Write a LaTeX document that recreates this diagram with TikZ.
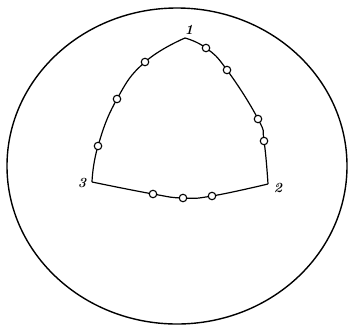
\documentclass[tikz,border=0pt]{standalone}
\begin{document}
\begin{tikzpicture}[x=1pt,y=-1pt,
  outline/.style={line width=1.4pt},
  edge/.style={line width=1.2pt},
  pin/.style={circle,draw,fill=white,line width=1.1pt,inner sep=0pt,minimum size=7.5pt},
  lbl/.style={font=\itshape\bfseries\fontsize{14}{14}\selectfont,inner sep=0pt}]
\useasboundingbox (0,0) rectangle (348,325);
\draw[outline] (177,166) ellipse [x radius=170, y radius=158];
\coordinate (v1) at (185,38);
\coordinate (v2) at (268,184);
\coordinate (v3) at (92,182);
\draw[edge] plot[smooth,tension=0.8] coordinates {(v1) (145,62) (117,99) (98,146) (v3)};
\draw[edge] plot[smooth,tension=0.8] coordinates {(v1) (206,48) (227,70) (258,119) (264,141) (v2)};
\draw[edge] plot[smooth,tension=0.8] coordinates {(v3) (153,194) (183,198) (212,196) (v2)};
\foreach \p/\n in {{(145,62)}/a1,{(117,99)}/a2,{(98,146)}/a3,{(206,48)}/b1,{(227,70)}/b2,{(258,119)}/b3,{(264,141)}/b4,{(153,194)}/c1,{(183,198)}/c2,{(212,196)}/c3}
  \node[pin] (\n) at \p {};
\node[lbl] (l1) at (189,30) {1};
\node[lbl] (l3) at (82,183) {3};
\node[lbl] (l2) at (278,188) {2};
\end{tikzpicture}
\end{document}
